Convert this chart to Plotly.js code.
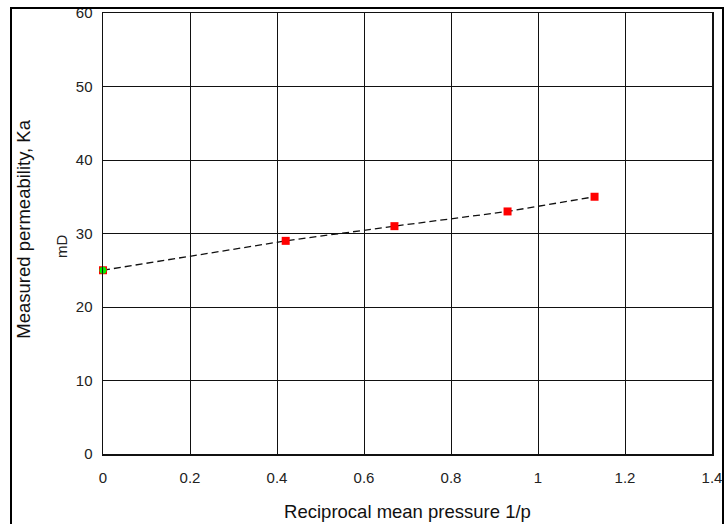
<!DOCTYPE html>
<html>
<head>
<meta charset="utf-8">
<script src="https://cdn.plot.ly/plotly-3.0.1.min.js"></script>
<style>
  html, body { margin: 0; padding: 0; background: #fff; }
  #wrap { position: relative; width: 724px; height: 524px; }
  #chart { position: absolute; left: 0; top: 0; width: 724px; height: 524px; }
  #frame { position: absolute; left: 10px; top: 7px; width: 710px; height: 530px; border: 2px solid #000; pointer-events: none; }
</style>
</head>
<body>
<div id="wrap">
  <div id="chart"></div>
  <div id="frame"></div>
</div>
<script>
// Measured data: reciprocal mean pressure vs measured permeability
const recipPressure = [0, 0.42, 0.67, 0.93, 1.13];
const permeability = [25, 29, 31, 33, 35];
// Extrapolated intercept (liquid permeability)
const interceptX = [0];
const interceptY = [25];
const xTicks = [0, 0.2, 0.4, 0.6, 0.8, 1, 1.2, 1.4];
const xTickText = ['0', '0.2', '0.4', '0.6', '0.8', '1', '1.2', '1.4'];
const yTicks = [0, 10, 20, 30, 40, 50, 60];

const font = 'Liberation Sans, Arial, sans-serif';

const traces = [
  {
    x: recipPressure, y: permeability, type: 'scatter', mode: 'lines+markers',
    line: { color: '#111', width: 1.3, dash: '7px,4px' },
    marker: { symbol: 'square', size: 8, color: '#ff0000' },
    cliponaxis: false, showlegend: false
  },
  {
    x: interceptX, y: interceptY, type: 'scatter', mode: 'markers',
    marker: { symbol: 'circle', size: 7, color: '#00ee00' },
    cliponaxis: false, showlegend: false
  }
];

const layout = {
  width: 724, height: 524,
  margin: { l: 103, r: 12, t: 13, b: 70 },
  paper_bgcolor: 'rgba(0,0,0,0)', plot_bgcolor: '#fff',
  font: { family: font, color: '#222', size: 15 },
  showlegend: false,
  xaxis: {
    range: [0, 1.4], tickvals: xTicks, ticktext: xTickText,
    showgrid: true, gridcolor: '#111', gridwidth: 1,
    zeroline: false, showline: true, mirror: true, linecolor: '#111', linewidth: 1.5,
    ticks: 'outside', ticklen: 9, tickcolor: 'rgba(0,0,0,0)',
    tickfont: { family: font, size: 15, color: '#222' },
    title: { text: 'Reciprocal mean pressure 1/p', font: { family: font, size: 18.5, color: '#111' }, standoff: 20 },
    automargin: false
  },
  yaxis: {
    range: [0, 60], tickvals: yTicks,
    showgrid: true, gridcolor: '#111', gridwidth: 1,
    zeroline: false, showline: true, mirror: true, linecolor: '#111', linewidth: 1.5,
    ticks: 'outside', ticklen: 6, tickcolor: 'rgba(0,0,0,0)',
    tickfont: { family: font, size: 15, color: '#222' },
    automargin: false
  },
  annotations: [
    { text: 'Measured permeability, Ka', xref: 'paper', yref: 'paper', x: -0.132, y: 0.51,
      textangle: -90, showarrow: false, xanchor: 'center', yanchor: 'middle',
      font: { family: font, size: 18.5, color: '#111' } },
    { text: 'mD', xref: 'paper', yref: 'paper', x: -0.067, y: 0.47,
      textangle: -90, showarrow: false, xanchor: 'center', yanchor: 'middle',
      font: { family: font, size: 15, color: '#222' } }
  ]
};

Plotly.newPlot('chart', traces, layout, { displayModeBar: false, staticPlot: true });
</script>
</body>
</html>
